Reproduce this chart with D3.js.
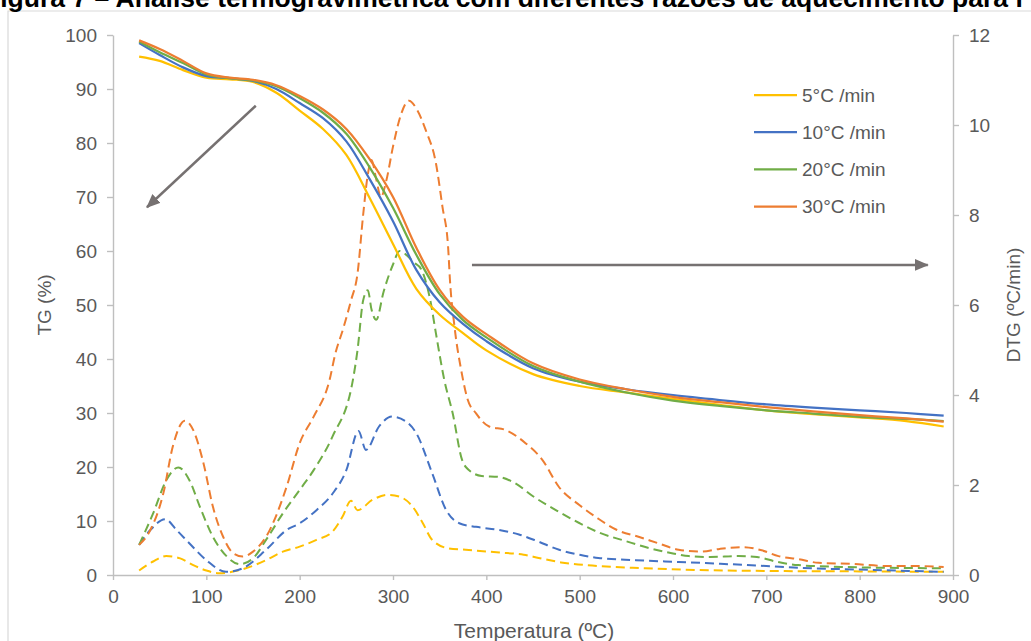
<!DOCTYPE html>
<html lang="pt">

<head>
  <meta charset="UTF-8" />
  <script src="https://d3js.org/d3.v7.min.js"></script>
  <style>
    body {
      margin: 0;
      background-color: #fff;
      overflow: hidden;
    }

    svg {
      display: block;
      font-family: "Liberation Sans", Arial, sans-serif;
    }

    .axis text {
      fill: #595959;
      font-size: 19px;
    }

    .axis path,
    .axis line {
      stroke: #bfbfbf;
      stroke-width: 1.4;
    }
  </style>
</head>

<body>
  <svg width="1031" height="641"></svg>

  <script>
    const width = 1031;
    const height = 641;
    const svg = d3.select("svg");

    // TG curves (left axis, %)
    const tgTemp = [28, 50, 75, 100, 125, 150, 175, 200, 225, 250, 275, 300, 325, 350, 375, 400, 450, 500, 550, 600, 650, 700, 750, 800, 850, 890];
    const tg5 = [96.0, 95.2, 93.5, 92.1, 91.8, 91.3, 89.3, 86.0, 82.6, 77.8, 69.8, 61.3, 53.0, 48.2, 44.8, 41.6, 37.2, 35.0, 33.8, 32.6, 31.5, 30.5, 29.8, 29.2, 28.5, 27.5];
    const tg10 = [98.5, 96.3, 94.0, 92.4, 92.0, 91.5, 90.0, 87.4, 84.6, 80.3, 73.3, 65.5, 56.5, 50.5, 46.5, 43.3, 38.3, 35.8, 34.4, 33.3, 32.4, 31.6, 31.0, 30.5, 30.0, 29.5];
    const tg20 = [98.8, 96.8, 94.8, 92.7, 92.0, 91.6, 90.5, 88.3, 85.6, 81.7, 75.5, 68.0, 59.3, 52.0, 47.2, 44.0, 38.7, 35.8, 33.8, 32.3, 31.3, 30.5, 29.9, 29.3, 28.9, 28.5];
    const tg30 = [99.0, 97.4, 95.2, 92.9, 92.1, 91.7, 90.7, 88.7, 86.2, 82.6, 77.0, 70.0, 60.6, 52.8, 47.8, 44.6, 39.2, 36.2, 34.4, 33.0, 32.0, 31.1, 30.3, 29.6, 29.0, 28.4];

    // DTG curves (right axis, ºC/min)
    const dtgTemp5 = [28, 43, 57, 72, 86, 100, 114, 136, 164, 182, 200, 218, 235, 246, 255, 262, 278, 294, 307, 321, 332, 342, 360, 378, 414, 440, 456, 480, 520, 570, 627, 700, 800, 890];
    const dtg5 = [0.1, 0.3, 0.42, 0.37, 0.22, 0.1, 0.04, 0.11, 0.33, 0.52, 0.63, 0.78, 0.96, 1.3, 1.65, 1.44, 1.67, 1.78, 1.74, 1.52, 1.15, 0.78, 0.59, 0.56, 0.5, 0.45, 0.38, 0.28, 0.2, 0.15, 0.11, 0.09, 0.08, 0.07];

    const dtgTemp10 = [28, 40, 56, 68, 82, 100, 121, 139, 164, 186, 200, 218, 235, 250, 263, 271, 285, 299, 314, 325, 342, 357, 371, 389, 414, 435, 455, 478, 500, 520, 560, 606, 650, 700, 734, 800, 890];
    const dtg10 = [0.67, 1.0, 1.24, 1.0, 0.7, 0.33, 0.07, 0.15, 0.56, 1.0, 1.15, 1.44, 1.8, 2.33, 3.2, 2.78, 3.3, 3.52, 3.41, 3.15, 2.26, 1.44, 1.15, 1.07, 1.0, 0.9, 0.75, 0.56, 0.45, 0.38, 0.33, 0.29, 0.25, 0.2, 0.16, 0.12, 0.07];

    const dtgTemp20 = [28, 43, 57, 70, 82, 93, 107, 122, 136, 150, 164, 182, 200, 215, 235, 257, 262, 268, 273, 277, 282, 290, 300, 307, 315, 322, 330, 340, 346, 355, 364, 374, 378, 395, 413, 430, 450, 478, 500, 520, 550, 574, 600, 617, 640, 670, 690, 710, 734, 780, 830, 890];
    const dtg20 = [0.67, 1.37, 2.1, 2.39, 2.1, 1.52, 0.85, 0.41, 0.24, 0.37, 0.78, 1.37, 1.89, 2.33, 3.07, 4.33, 5.0, 6.1, 6.33, 5.9, 5.67, 6.3, 6.9, 7.2, 7.1, 6.95, 6.8, 6.1, 5.37, 4.33, 3.59, 2.56, 2.4, 2.2, 2.18, 2.05, 1.75, 1.4, 1.15, 0.95, 0.75, 0.6, 0.48, 0.42, 0.4, 0.42, 0.4, 0.3, 0.22, 0.18, 0.16, 0.15];

    const dtgTemp30 = [28, 40, 54, 64, 77, 86, 97, 107, 118, 129, 139, 150, 164, 186, 200, 215, 232, 238, 247, 255, 262, 268, 273, 277, 282, 287, 293, 300, 309, 317, 326, 335, 346, 353, 359, 361, 366, 373, 380, 389, 403, 421, 442, 460, 478, 500, 520, 540, 563, 585, 606, 630, 650, 675, 695, 713, 735, 756, 790, 830, 860, 890];
    const dtg30 = [0.67, 1.0, 1.82, 2.85, 3.43, 3.22, 2.48, 1.52, 0.85, 0.48, 0.41, 0.52, 0.85, 1.96, 2.93, 3.52, 4.33, 4.9, 5.5, 6.1, 6.7, 8.0, 8.9, 9.22, 8.8, 8.4, 8.78, 9.52, 10.26, 10.54, 10.33, 9.89, 9.15, 8.18, 7.3, 6.56, 5.5, 4.56, 3.9, 3.59, 3.3, 3.22, 2.93, 2.56, 1.95, 1.55, 1.25, 1.0, 0.85, 0.7, 0.56, 0.52, 0.58, 0.62, 0.55, 0.42, 0.35, 0.27, 0.25, 0.2, 0.2, 0.18];

    const seriesNames = ["5°C /min", "10°C /min", "20°C /min", "30°C /min"];
    const seriesColors = ["#ffc000", "#4472c4", "#70ad47", "#ed7d31"];

    const xTicks = [0, 100, 200, 300, 400, 500, 600, 700, 800, 900];
    const tgTicks = [0, 10, 20, 30, 40, 50, 60, 70, 80, 90, 100];
    const dtgTicks = [0, 2, 4, 6, 8, 10, 12];

    // annotation arrows, in data units: [T0, v0, T1, v1]
    const tgArrow = [153, 86.9, 36.4, 68.1];
    const dtgArrow = [384.6, 6.89, 873, 6.89];

    const x = d3.scaleLinear().domain([0, 900]).range([113, 953]);
    const yTG = d3.scaleLinear().domain([0, 100]).range([575, 35]);
    const yDTG = d3.scaleLinear().domain([0, 12]).range([575, 35]);

    // chart frame (partially visible)
    svg.append("path")
      .attr("d", "M8,641V11H1031")
      .attr("fill", "none")
      .attr("stroke", "#d9d9d9")
      .attr("stroke-width", 1.2);

    // title, clipped at the top and left as in the source image
    svg.append("text")
      .attr("x", -16)
      .attr("y", 7)
      .attr("font-size", 26.5)
      .attr("font-weight", "bold")
      .attr("fill", "#000")
      .text("Figura 7 – Análise termogravimétrica com diferentes razões de aquecimento para r");

    // axes
    svg.append("g")
      .attr("class", "axis")
      .attr("transform", "translate(0,575)")
      .call(d3.axisBottom(x).tickValues(xTicks).tickSize(5).tickSizeOuter(0).tickPadding(10));

    svg.append("g")
      .attr("class", "axis")
      .attr("transform", "translate(113,0)")
      .call(d3.axisLeft(yTG).tickValues(tgTicks).tickSize(6).tickSizeOuter(0).tickPadding(10));

    svg.append("g")
      .attr("class", "axis")
      .attr("transform", "translate(953,0)")
      .call(d3.axisRight(yDTG).tickValues(dtgTicks).tickSize(6).tickSizeOuter(0).tickPadding(10));

    // axis titles
    svg.append("text")
      .attr("x", 534)
      .attr("y", 638)
      .attr("text-anchor", "middle")
      .attr("font-size", 21)
      .attr("fill", "#595959")
      .text("Temperatura (ºC)");

    svg.append("text")
      .attr("transform", "translate(51,305) rotate(-90)")
      .attr("text-anchor", "middle")
      .attr("font-size", 19)
      .attr("fill", "#595959")
      .text("TG (%)");

    svg.append("text")
      .attr("transform", "translate(1020,305) rotate(-90)")
      .attr("text-anchor", "middle")
      .attr("font-size", 19)
      .attr("fill", "#595959")
      .text("DTG (ºC/min)");

    const tgSeries = [tg5, tg10, tg20, tg30];
    const dtgSeries = [[dtgTemp5, dtg5], [dtgTemp10, dtg10], [dtgTemp20, dtg20], [dtgTemp30, dtg30]];

    const lineTG = d3.line()
      .x(d => x(d[0]))
      .y(d => yTG(d[1]))
      .curve(d3.curveCatmullRom.alpha(0.5));

    const lineDTG = d3.line()
      .x(d => x(d[0]))
      .y(d => yDTG(d[1]))
      .curve(d3.curveMonotoneX);

    // DTG dashed curves
    dtgSeries.forEach((s, i) => {
      const pts = s[0].map((t, j) => [t, s[1][j]]);
      svg.append("path")
        .attr("d", lineDTG(pts))
        .attr("fill", "none")
        .attr("stroke", seriesColors[i])
        .attr("stroke-width", 2)
        .attr("stroke-dasharray", "9,5");
    });

    // TG solid curves
    tgSeries.forEach((vals, i) => {
      const pts = tgTemp.map((t, j) => [t, vals[j]]);
      svg.append("path")
        .attr("d", lineTG(pts))
        .attr("fill", "none")
        .attr("stroke", seriesColors[i])
        .attr("stroke-width", 2.25);
    });

    // arrows
    svg.append("defs").append("marker")
      .attr("id", "head")
      .attr("markerUnits", "userSpaceOnUse")
      .attr("viewBox", "0 0 14 12")
      .attr("refX", 13)
      .attr("refY", 6)
      .attr("markerWidth", 14)
      .attr("markerHeight", 12)
      .attr("orient", "auto")
      .append("path")
      .attr("d", "M0,0L14,6L0,12Z")
      .attr("fill", "#767171");

    svg.append("line")
      .attr("x1", x(tgArrow[0])).attr("y1", yTG(tgArrow[1]))
      .attr("x2", x(tgArrow[2])).attr("y2", yTG(tgArrow[3]))
      .attr("stroke", "#767171")
      .attr("stroke-width", 2.5)
      .attr("marker-end", "url(#head)");

    svg.append("line")
      .attr("x1", x(dtgArrow[0])).attr("y1", yDTG(dtgArrow[1]))
      .attr("x2", x(dtgArrow[2])).attr("y2", yDTG(dtgArrow[3]))
      .attr("stroke", "#767171")
      .attr("stroke-width", 2.5)
      .attr("marker-end", "url(#head)");

    // legend
    const legend = svg.append("g").attr("transform", "translate(754,95)");
    seriesNames.forEach((name, i) => {
      const g = legend.append("g").attr("transform", `translate(0,${i * 37.2})`);
      g.append("line")
        .attr("x1", 0).attr("x2", 43)
        .attr("stroke", seriesColors[i])
        .attr("stroke-width", 2.25);
      g.append("text")
        .attr("x", 48)
        .attr("dy", "0.35em")
        .attr("font-size", 19)
        .attr("fill", "#595959")
        .text(name);
    });
  </script>
</body>

</html>
